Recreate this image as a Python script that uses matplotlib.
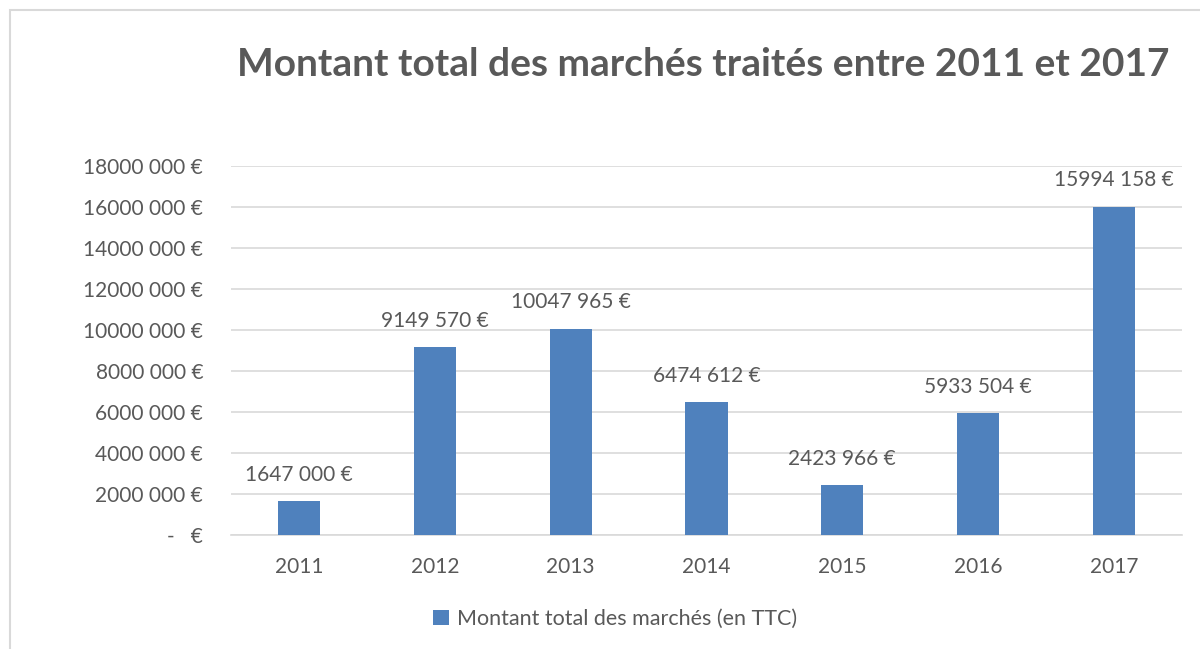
import matplotlib
matplotlib.use("Agg")
import matplotlib.pyplot as plt
from matplotlib.patches import Rectangle

years = ["2011", "2012", "2013", "2014", "2015", "2016", "2017"]
amounts = [1647000, 9149570, 10047965, 6474612, 2423966, 5933504, 15994158]
yticks = [0, 2000000, 4000000, 6000000, 8000000, 10000000, 12000000, 14000000, 16000000, 18000000]
title = "Montant total des marchés traités entre 2011 et 2017"
series_name = "Montant total des marchés (en TTC)"

TXT = "#595959"
GRID = "#d9d9d9"
BAR = "#4f81bd"
FONT = "Lato"

def fmt(v):
    v = int(round(v))
    if v == 0:
        return "-   €"
    return f"{v // 1000} {v % 1000:03d} €"

plt.rcParams['font.family'] = [FONT, 'DejaVu Sans']

fig = plt.figure(figsize=(12, 6.49), dpi=100)
W, H = 1200, 649
ax = fig.add_axes([231 / W, 1 - 535 / H, (1182 - 231) / W, (535 - 166) / H])

x = list(range(len(years)))
bars = ax.bar(x, amounts, width=0.31, color=BAR, zorder=3, label=series_name)

ax.set_xlim(-0.5, len(years) - 0.5)
ax.set_ylim(0, 18000000)
ax.set_yticks(yticks)
ax.set_yticklabels([fmt(v) for v in yticks])
ax.set_xticks(x)
ax.set_xticklabels(years)
ax.tick_params(axis='both', length=0, colors=TXT, labelsize=15)
ax.tick_params(axis='y', pad=20)
ax.tick_params(axis='x', pad=16)
ax.grid(axis='y', color=GRID, linewidth=1.2, zorder=0)
for s in ['top', 'right', 'left']:
    ax.spines[s].set_visible(False)
ax.spines['bottom'].set_color(GRID)
ax.spines['bottom'].set_linewidth(1.2)

for xi, v in zip(x, amounts):
    ax.annotate(fmt(v), (xi, v), xytext=(0, 12), textcoords='offset points',
                ha='center', va='bottom', fontsize=15, color=TXT)

fig.text(703 / W, 1 - 65 / H, title, ha='center', va='center', fontsize=28,
         fontweight='bold', color=TXT)

leg = fig.legend(handles=[bars], labels=[series_name], loc='center',
                 bbox_to_anchor=(615 / W, 1 - 619 / H), frameon=False,
                 fontsize=15.5, handlelength=0.75, handleheight=0.75,
                 handletextpad=0.35, labelcolor=TXT)

fig.patches.append(Rectangle((10 / W, -0.1), 1.2, 1 - 10 / H + 0.1,
                             transform=fig.transFigure, fill=False,
                             edgecolor=GRID, linewidth=1.5))

fig.savefig("out.png", dpi=100, facecolor="white")
